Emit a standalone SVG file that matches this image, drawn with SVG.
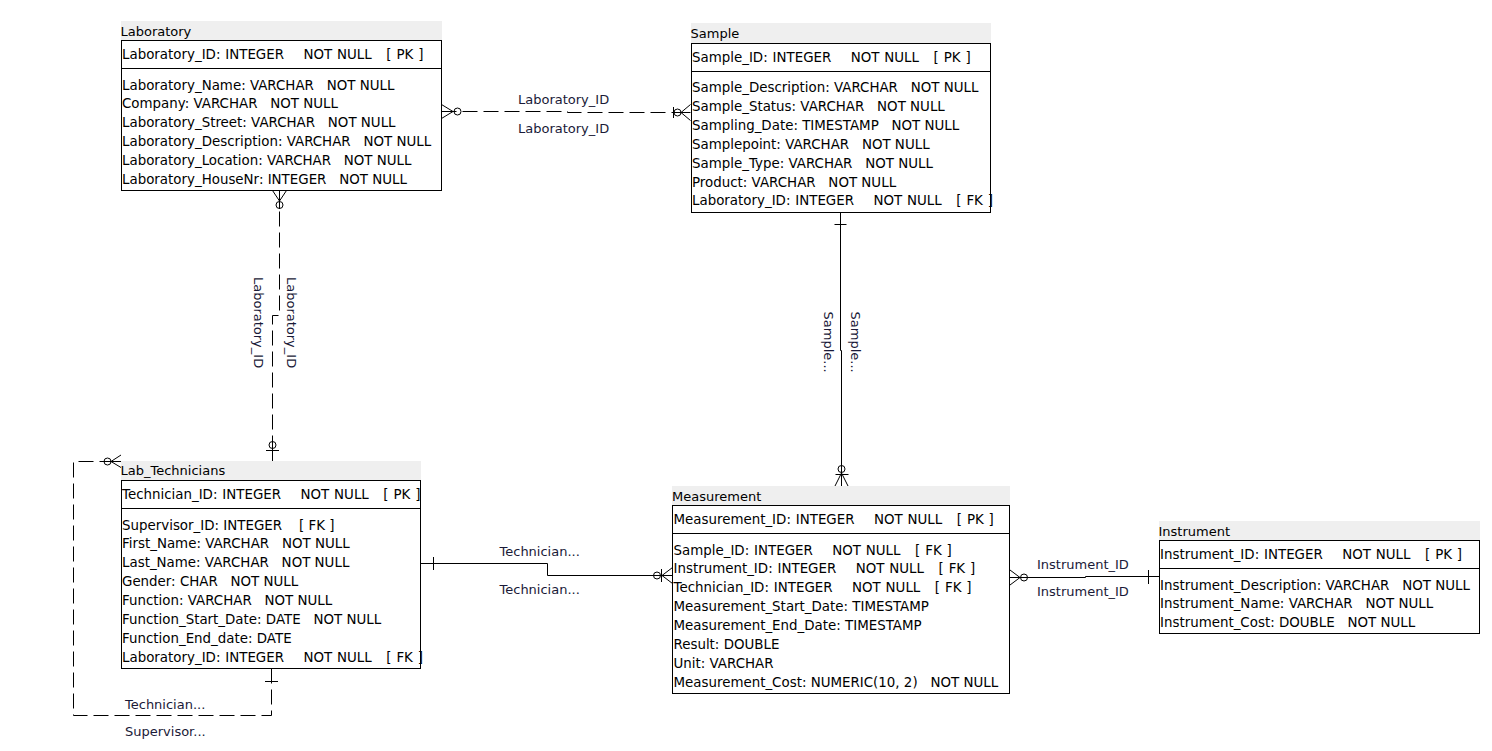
<svg xmlns="http://www.w3.org/2000/svg" width="1492" height="751" viewBox="0 0 1492 751" xml:space="preserve">
  <style>
    text { font-family: "DejaVu Sans", "Noto Sans", sans-serif; font-size: 13px; white-space: pre; fill: #000; }
    text.a { font-size: 13.4px; }
    text.k { font-size: 13.4px; word-spacing: 0.6px; }
    .band { fill: #efefef; }
    .box { fill: #fff; stroke: #000; stroke-width: 1; }
    .sep { stroke: #000; stroke-width: 1; }
    .lbl { fill: #1a1a38; }
    .rel { fill: none; stroke: #000; stroke-width: 1; }
    .dash { stroke-dasharray: 15 6; }
  </style>
  <rect width="1492" height="751" fill="#fff"/>

  <!-- Laboratory -->
  <g id="laboratory">
    <rect class="band" x="121" y="21" width="321" height="19"/>
    <text x="120.5" y="35.5">Laboratory</text>
    <rect class="box" x="121.5" y="40.5" width="320" height="150"/>
    <line class="sep" x1="121.5" y1="68.5" x2="441.5" y2="68.5"/>
    <text class="k" x="122" y="58.5">Laboratory_ID: INTEGER    NOT NULL   [ PK ]</text>
    <text class="a" x="122" y="89.5">Laboratory_Name: VARCHAR   NOT NULL</text>
    <text class="a" x="122" y="108.4">Company: VARCHAR   NOT NULL</text>
    <text class="a" x="122" y="127.3">Laboratory_Street: VARCHAR   NOT NULL</text>
    <text class="a" x="122" y="146.2">Laboratory_Description: VARCHAR   NOT NULL</text>
    <text class="a" x="122" y="165.1">Laboratory_Location: VARCHAR   NOT NULL</text>
    <text class="a" x="122" y="184">Laboratory_HouseNr: INTEGER   NOT NULL</text>
  </g>

  <!-- Sample -->
  <g id="sample">
    <rect class="band" x="691" y="23" width="300" height="20"/>
    <text x="690.5" y="37.5">Sample</text>
    <rect class="box" x="691.5" y="43.5" width="299" height="169"/>
    <line class="sep" x1="691.5" y1="71.5" x2="990.5" y2="71.5"/>
    <text class="k" x="692" y="61.5">Sample_ID: INTEGER    NOT NULL   [ PK ]</text>
    <text class="a" x="692" y="92">Sample_Description: VARCHAR   NOT NULL</text>
    <text class="a" x="692" y="110.9">Sample_Status: VARCHAR   NOT NULL</text>
    <text class="a" x="692" y="129.8">Sampling_Date: TIMESTAMP   NOT NULL</text>
    <text class="a" x="692" y="148.7">Samplepoint: VARCHAR   NOT NULL</text>
    <text class="a" x="692" y="167.6">Sample_Type: VARCHAR   NOT NULL</text>
    <text class="a" x="692" y="186.5">Product: VARCHAR   NOT NULL</text>
    <text class="k" x="692" y="205.4">Laboratory_ID: INTEGER    NOT NULL   [ FK ]</text>
  </g>

  <!-- Lab_Technicians -->
  <g id="lab_technicians">
    <rect class="band" x="121" y="461" width="300" height="19"/>
    <text x="120.5" y="475">Lab_Technicians</text>
    <rect class="box" x="121.5" y="480.5" width="299" height="188"/>
    <line class="sep" x1="121.5" y1="508.5" x2="420.5" y2="508.5"/>
    <text class="k" x="122" y="498.5">Technician_ID: INTEGER    NOT NULL   [ PK ]</text>
    <text class="a" x="122" y="529.5">Supervisor_ID: INTEGER    [ FK ]</text>
    <text class="a" x="122" y="548.4">First_Name: VARCHAR   NOT NULL</text>
    <text class="a" x="122" y="567.3">Last_Name: VARCHAR   NOT NULL</text>
    <text class="a" x="122" y="586.2">Gender: CHAR   NOT NULL</text>
    <text class="a" x="122" y="605.1">Function: VARCHAR   NOT NULL</text>
    <text class="a" x="122" y="624">Function_Start_Date: DATE   NOT NULL</text>
    <text class="a" x="122" y="642.9">Function_End_date: DATE</text>
    <text class="k" x="122" y="661.8">Laboratory_ID: INTEGER    NOT NULL   [ FK ]</text>
  </g>

  <!-- Measurement -->
  <g id="measurement">
    <rect class="band" x="672" y="486" width="338" height="19"/>
    <text x="672" y="500.5">Measurement</text>
    <rect class="box" x="672.5" y="505.5" width="337" height="188"/>
    <line class="sep" x1="672.5" y1="533.5" x2="1009.5" y2="533.5"/>
    <text class="k" x="673.5" y="523.5">Measurement_ID: INTEGER    NOT NULL   [ PK ]</text>
    <text class="k" x="673.5" y="554.5">Sample_ID: INTEGER    NOT NULL   [ FK ]</text>
    <text class="k" x="673.5" y="573.4">Instrument_ID: INTEGER    NOT NULL   [ FK ]</text>
    <text class="k" x="673.5" y="592.3">Technician_ID: INTEGER    NOT NULL   [ FK ]</text>
    <text class="a" x="673.5" y="611.2">Measurement_Start_Date: TIMESTAMP</text>
    <text class="a" x="673.5" y="630.1">Measurement_End_Date: TIMESTAMP</text>
    <text class="a" x="673.5" y="649">Result: DOUBLE</text>
    <text class="a" x="673.5" y="667.9">Unit: VARCHAR</text>
    <text class="a" x="673.5" y="686.8">Measurement_Cost: NUMERIC(10, 2)   NOT NULL</text>
  </g>

  <!-- Instrument -->
  <g id="instrument">
    <rect class="band" x="1159" y="521" width="321" height="19"/>
    <text x="1158.5" y="535.5">Instrument</text>
    <rect class="box" x="1159.5" y="540.5" width="320" height="93"/>
    <line class="sep" x1="1159.5" y1="568.5" x2="1479.5" y2="568.5"/>
    <text class="k" x="1160" y="558.5">Instrument_ID: INTEGER    NOT NULL   [ PK ]</text>
    <text class="a" x="1160" y="589.5">Instrument_Description: VARCHAR   NOT NULL</text>
    <text class="a" x="1160" y="608.4">Instrument_Name: VARCHAR   NOT NULL</text>
    <text class="a" x="1160" y="627.3">Instrument_Cost: DOUBLE   NOT NULL</text>
  </g>

  <!-- Relationships -->
  <g id="connectors">
    <!-- Laboratory - Sample -->
    <path class="rel dash" d="M441.5,111.5 H567.5 V112.5 H691"/>
    <path class="rel" d="M441.5,104.5 L453,111.5 L441.5,118.5"/>
    <circle class="rel" cx="457.5" cy="111.5" r="3.5"/>
    <path class="rel" d="M673.5,107 V118 M681,112.5 L690.5,104.5 M681,112.5 L690.5,120.5 M673,112.5 H690.5"/>
    <circle class="rel" cx="677.5" cy="112.5" r="3.5"/>
    <text class="lbl" x="518" y="103.5">Laboratory_ID</text>
    <text class="lbl" x="518" y="132.5">Laboratory_ID</text>

    <!-- Laboratory - Lab_Technicians -->
    <path class="rel dash" d="M279.5,190.5 V315.5 H272.5 V461"/>
    <path class="rel" d="M272.5,190.5 L279.5,201 L286.5,190.5 M279.5,190.5 V209"/>
    <circle class="rel" cx="279.5" cy="205" r="3.5"/>
    <circle class="rel" cx="272.5" cy="445" r="3.5"/>
    <path class="rel" d="M266,450.5 H279 M272.5,440 V461"/>
    <text class="lbl" transform="translate(286.5,277) rotate(90)">Laboratory_ID</text>
    <text class="lbl" transform="translate(254,277) rotate(90)">Laboratory_ID</text>

    <!-- Sample - Measurement -->
    <path class="rel" d="M840.5,212.5 V350.5 H841.5 V486"/>
    <path class="rel" d="M834.5,224.5 H846.5"/>
    <circle class="rel" cx="841.5" cy="469" r="3.5"/>
    <path class="rel" d="M835.5,474.5 H848.5 M841.5,473 L835,486 M841.5,473 L848,486"/>
    <text class="lbl" transform="translate(823.5,311.5) rotate(90)">Sample...</text>
    <text class="lbl" transform="translate(850.5,311.5) rotate(90)">Sample...</text>

    <!-- Lab_Technicians - Measurement -->
    <path class="rel" d="M420.5,563.5 H547.5 V575.5 H672.5"/>
    <path class="rel" d="M433.5,557 V570"/>
    <circle class="rel" cx="657" cy="575.5" r="3.5"/>
    <path class="rel" d="M661.5,569 V582 M662,575.5 L672.5,567.5 M662,575.5 L672.5,583.5"/>
    <text class="lbl" x="499.5" y="556">Technician...</text>
    <text class="lbl" x="499.5" y="594">Technician...</text>

    <!-- Measurement - Instrument -->
    <path class="rel" d="M1009.5,577.5 H1085.5 V576.5 H1159"/>
    <path class="rel" d="M1010,570 L1020,577.5 L1010,585"/>
    <circle class="rel" cx="1024" cy="577.5" r="3.5"/>
    <path class="rel" d="M1148.5,570 V584"/>
    <text class="lbl" x="1037" y="569">Instrument_ID</text>
    <text class="lbl" x="1037" y="596">Instrument_ID</text>

    <!-- Lab_Technicians supervisor (self reference) -->
    <path class="rel dash" d="M271.5,668.5 V715.5 H73.5 V461.5 H104"/>
    <path class="rel" d="M265,681.5 H278"/>
    <circle class="rel" cx="107.5" cy="461.5" r="3.5"/>
    <path class="rel" d="M111,461.5 L121,455 M111,461.5 L121,467.5 M104,461.5 H121"/>
    <text class="lbl" x="125" y="709">Technician...</text>
    <text class="lbl" x="125" y="736">Supervisor...</text>
  </g>
</svg>
